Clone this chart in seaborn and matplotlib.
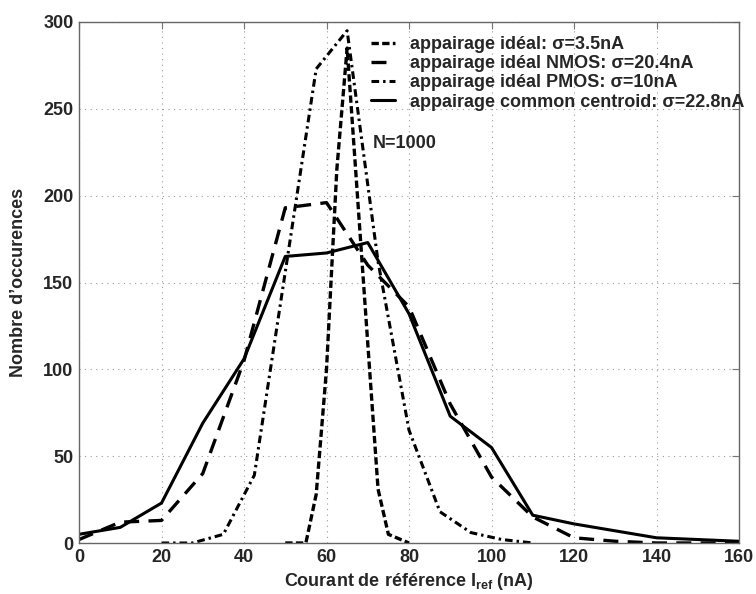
import matplotlib
matplotlib.use("Agg")
import matplotlib.pyplot as plt
import seaborn as sns

# Courant (nA) / nombre d'occurences
x_ideal = [50, 55, 57.5, 60, 62.5, 65, 67.5, 70, 72.5, 75, 80]
n_ideal = [0, 0, 28, 100, 215, 285, 200, 115, 31, 5, 0]

x_nmos = [0, 10, 20, 30, 40, 50, 60, 70, 80, 90, 100, 110, 120, 130, 140, 150, 160]
n_nmos = [2, 12, 13, 40, 105, 193, 196, 160, 136, 80, 38, 15, 3, 1, 0, 0, 0]

x_pmos = [20, 27.5, 35, 42.5, 50, 57.5, 65, 72.5, 80, 87.5, 95, 102.5, 110]
n_pmos = [0, 0, 5, 39, 156, 273, 295, 162, 65, 18, 6, 2, 0]

x_cc = [0, 10, 20, 30, 40, 50, 60, 70, 80, 90, 100, 110, 120, 140, 160]
n_cc = [5, 9, 23, 69, 106, 165, 167, 173, 132, 73, 55, 16, 11, 3, 1]

labels = [
    "appairage idéal: σ=3.5nA",
    "appairage idéal NMOS: σ=20.4nA",
    "appairage idéal PMOS: σ=10nA",
    "appairage common centroid: σ=22.8nA",
]

sns.set_style("white")
plt.rcParams["font.family"] = ["Liberation Sans", "DejaVu Sans"]
plt.rcParams["font.weight"] = "bold"
plt.rcParams["font.size"] = 13
plt.rcParams["mathtext.fontset"] = "custom"
plt.rcParams["mathtext.rm"] = "Liberation Sans:bold"
plt.rcParams["mathtext.bf"] = "Liberation Sans:bold"

fig = plt.figure(figsize=(7.56, 5.94), dpi=100)
ax = fig.add_axes([79 / 756, 1 - 543 / 594, 660 / 756, 521 / 594])

styles = [
    dict(linestyle=(0, (2.2, 1.0)), linewidth=2.4),
    dict(linestyle=(0, (4.5, 2.8)), linewidth=2.4),
    dict(linestyle=(0, (2.5, 1.3, 0.8, 1.3)), linewidth=2.2),
    dict(linestyle="-", linewidth=2.2),
]
series = [(x_ideal, n_ideal), (x_nmos, n_nmos), (x_pmos, n_pmos), (x_cc, n_cc)]

for (xs, ys), lab, st in zip(series, labels, styles):
    sns.lineplot(x=xs, y=ys, ax=ax, color="black", label=lab, **st)

ax.set_xlim(0, 160)
ax.set_ylim(0, 300)
ax.set_xticks(range(0, 161, 20))
ax.set_yticks(range(0, 301, 50))
ax.grid(True, linestyle=(0, (1, 4)), color="#999999", linewidth=0.8)
ax.tick_params(direction="in", length=5, color="#777777", top=True, right=True,
               labelsize=13, pad=4)
for sp in ax.spines.values():
    sp.set_color("#666666")
    sp.set_linewidth(1.0)

ax.set_xlabel(r"Courant de référence I$_{\mathbf{ref}}$ (nA)", fontsize=13,
              fontweight="bold", labelpad=4)
ax.set_ylabel("Nombre d’occurences", fontsize=13, fontweight="bold", labelpad=12)

ax.text(71.1, 230, "N=1000", fontsize=13, fontweight="bold", va="center", ha="left")

ax.legend(loc="upper left", bbox_to_anchor=(0.443, 0.973), frameon=False,
          borderpad=0, handlelength=1.3, handletextpad=0.85, labelspacing=0.12,
          fontsize=13, borderaxespad=0)

fig.savefig("out.png", dpi=100)
